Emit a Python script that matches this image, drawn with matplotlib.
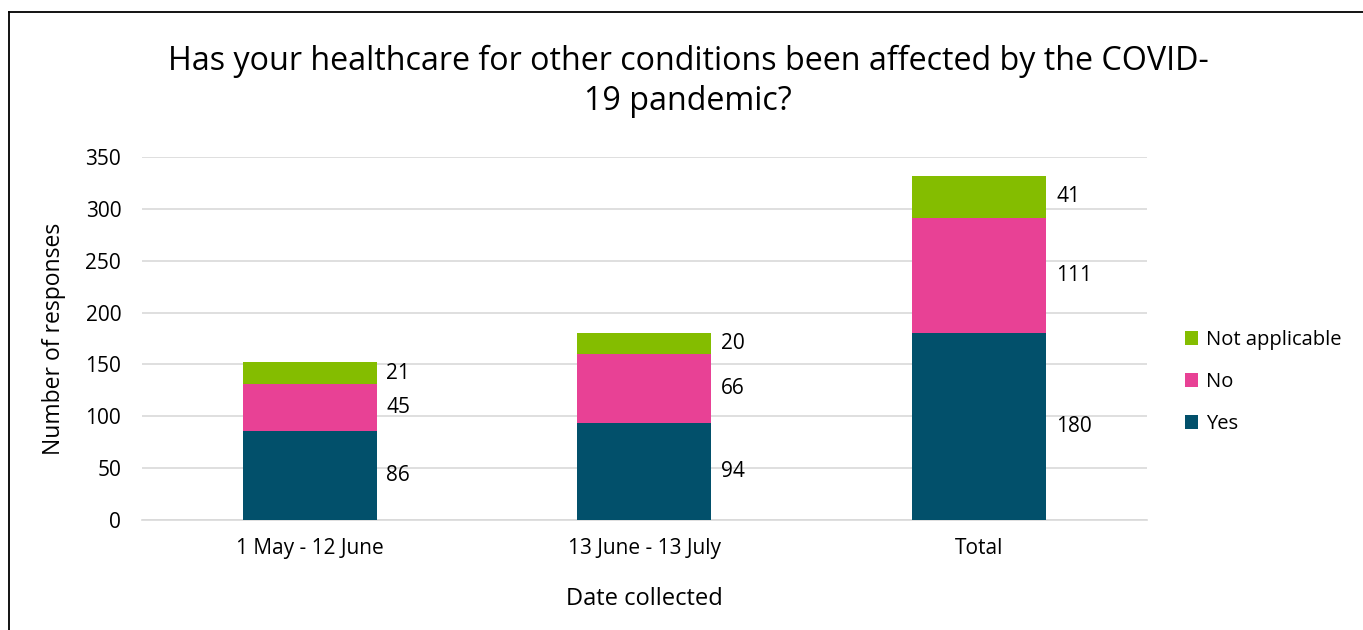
import matplotlib.pyplot as plt
import numpy as np
from matplotlib.lines import Line2D

plt.rcParams["font.family"] = ["Open Sans", "DejaVu Sans"]

categories = ["1 May - 12 June", "13 June - 13 July", "Total"]
yes = [86, 94, 180]
no = [45, 66, 111]
not_applicable = [21, 20, 41]

series = [("Yes", yes, "#02506B"),
          ("No", no, "#E84195"),
          ("Not applicable", not_applicable, "#84BD00")]

fig = plt.figure(figsize=(13.63, 6.3), dpi=100)
ax = fig.add_axes([0.1042, 0.1746, 0.7373, 0.5762])

x = np.arange(len(categories))
bar_width = 0.4
bottom = np.zeros(len(categories))
handles = []
for name, vals, color in series:
    vals = np.array(vals, dtype=float)
    bars = ax.bar(x, vals, bar_width, bottom=bottom, color=color, label=name, zorder=3)
    handles.append(bars)
    for xi, b, v in zip(x, bottom, vals):
        ax.annotate(str(int(v)), xy=(xi + bar_width / 2, b + v / 2),
                    xytext=(7, 0), textcoords="offset points",
                    ha="left", va="center", fontsize=15, color="#000000")
    bottom = bottom + vals

ax.set_xlim(-0.5, 2.5)
ax.set_ylim(0, 350)
ax.set_yticks(range(0, 351, 50))
ax.set_xticks(x)
ax.set_xticklabels(categories)
ax.tick_params(axis="both", length=0, labelsize=15, colors="#000000")
ax.tick_params(axis="y", pad=15)
ax.tick_params(axis="x", pad=13)
ax.grid(axis="y", color="#D9D9D9", linewidth=1.2, zorder=0)
for s in ["top", "right", "left"]:
    ax.spines[s].set_visible(False)
ax.spines["bottom"].set_color("#D9D9D9")
ax.spines["bottom"].set_linewidth(1.2)

ax.set_ylabel("Number of responses", fontsize=16.5, labelpad=14)
ax.set_xlabel("Date collected", fontsize=17, labelpad=20)

fig.text(0.505, 0.871, "Has your healthcare for other conditions been affected by the COVID-\n19 pandemic?",
         ha="center", va="center", fontsize=23.2, linespacing=1.3)

leg = ax.legend(handles=handles[::-1], loc="center left", bbox_to_anchor=(1.02, 0.38),
                frameon=False, fontsize=14.5, handlelength=0.65, handleheight=0.65,
                labelspacing=1.1, handletextpad=0.4)

# outer border (top and left)
fig.add_artist(Line2D([9 / 1363, 1], [1 - 12 / 630, 1 - 12 / 630], color="black", lw=1.3,
                      transform=fig.transFigure))
fig.add_artist(Line2D([9 / 1363, 9 / 1363], [0, 1 - 12 / 630], color="black", lw=1.3,
                      transform=fig.transFigure))

fig.savefig("out.png", dpi=100)
